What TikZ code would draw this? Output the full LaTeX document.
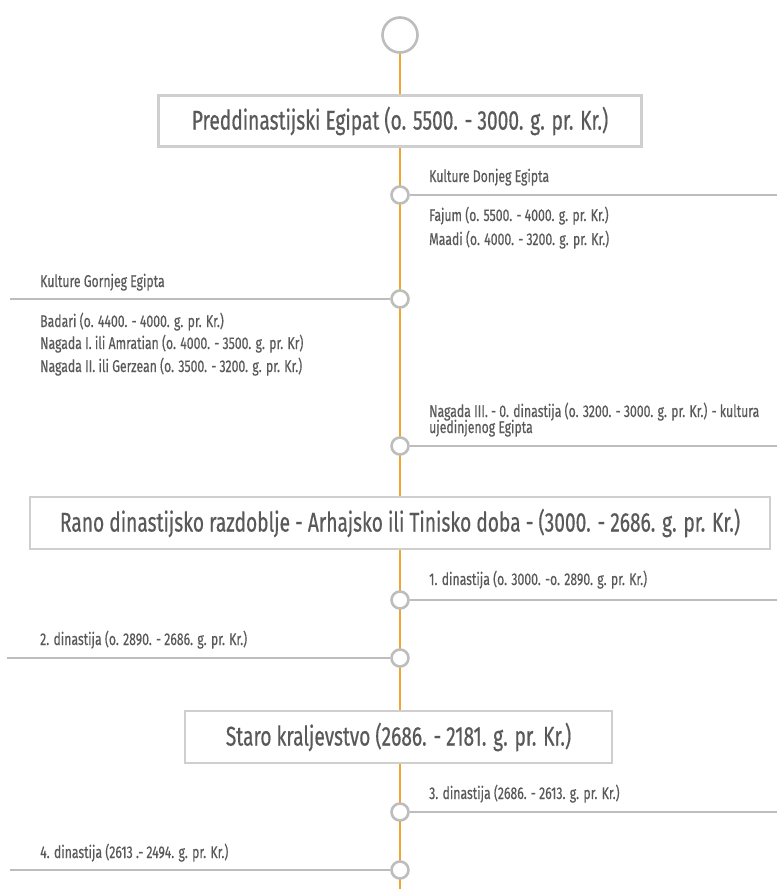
\documentclass[tikz,border=0pt]{standalone}
\usepackage{fontspec}
\setmainfont[FakeStretch=0.72,FakeBold=0.45]{Fira Sans}
\newfontfamily\erafont[FakeStretch=0.71,FakeBold=0.45]{Fira Sans}
\usetikzlibrary{positioning}
\definecolor{spine}{HTML}{F0A531}
\definecolor{rule}{HTML}{BDBDBD}
\definecolor{boxline}{HTML}{CFCFCF}
\definecolor{ink}{HTML}{595959}

\begin{document}
\begin{tikzpicture}[x=1pt,y=-1pt,
    dot/.style={circle,draw=rule,fill=white,line width=2.6pt,minimum size=17pt,inner sep=0pt},
    bigdot/.style={circle,draw=rule,fill=white,line width=2.6pt,minimum size=35pt,inner sep=0pt},
    era/.style={draw=boxline,fill=white,line width=2.6pt,text=ink,font=\erafont\fontsize{27}{30}\selectfont,inner sep=0pt},
    branch/.style={draw=rule,line width=2.6pt},
    head/.style={anchor=base west,text=ink,font=\fontsize{17}{18}\selectfont,inner sep=0pt},
    item/.style={anchor=base west,text=ink,font=\fontsize{17}{18}\selectfont,inner sep=0pt}]
  \useasboundingbox (0,0) rectangle (777,889);

  % os vremena
  \draw[spine,line width=2.6pt] (400,53) -- (400,889);
  \node[bigdot] (top) at (400,35) {};

  % predinastijsko razdoblje
  \node[era,minimum width=483pt,minimum height=51pt] (e1) at (400,121) {Preddinastijski Egipat (o. 5500. - 3000. g. pr. Kr.)};

  \node[dot] (d1) at (400,195) {};
  \coordinate (r1) at (777,195);
  \draw[branch] (d1) -- (r1);
  \node[head] (h1) at (429,182) {Kulture Donjeg Egipta};
  \node[item] (i11) at (429,221) {Fajum (o. 5500. - 4000. g. pr. Kr.)};
  \node[item] (i12) at (429,245) {Maadi (o. 4000. - 3200. g. pr. Kr.)};

  \node[dot] (d2) at (400,299) {};
  \coordinate (l2) at (10,299);
  \draw[branch] (d2) -- (l2);
  \node[head] (h2) at (40,287) {Kulture Gornjeg Egipta};
  \node[item] (i21) at (40,327) {Badari (o. 4400. - 4000. g. pr. Kr.)};
  \node[item] (i22) at (40,349) {Nagada I. ili Amratian (o. 4000. - 3500. g. pr. Kr)};
  \node[item] (i23) at (40,372) {Nagada II. ili Gerzean (o. 3500. - 3200. g. pr. Kr.)};

  \node[dot] (d3) at (400,446) {};
  \coordinate (r3) at (777,446);
  \draw[branch] (d3) -- (r3);
  \node[head] (h3) at (429,417) {Nagada III. - 0. dinastija (o. 3200. - 3000. g. pr. Kr.) - kultura};
  \node[head] (h3b) at (429,433) {ujedinjenog Egipta};

  % rano dinastijsko razdoblje
  \node[era,minimum width=740pt,minimum height=52pt] (e2) at (400,523) {Rano dinastijsko razdoblje - Arhajsko ili Tinisko doba - (3000. - 2686. g. pr. Kr.)};

  \node[dot] (d4) at (400,600) {};
  \coordinate (r4) at (777,600);
  \draw[branch] (d4) -- (r4);
  \node[head] (h4) at (429,585) {1. dinastija (o. 3000. -o. 2890. g. pr. Kr.)};

  \node[dot] (d5) at (400,658) {};
  \coordinate (l5) at (7,658);
  \draw[branch] (d5) -- (l5);
  \node[head] (h5) at (40,645) {2. dinastija (o. 2890. - 2686. g. pr. Kr.)};

  % staro kraljevstvo
  \node[era,minimum width=427pt,minimum height=52pt] (e3) at (398.5,737) {Staro kraljevstvo (2686. - 2181. g. pr. Kr.)};

  \node[dot] (d6) at (400,812) {};
  \coordinate (r6) at (777,812);
  \draw[branch] (d6) -- (r6);
  \node[head] (h6) at (429,799) {3. dinastija (2686. - 2613. g. pr. Kr.)};

  \node[dot] (d7) at (400,870) {};
  \coordinate (l7) at (10,870);
  \draw[branch] (d7) -- (l7);
  \node[head] (h7) at (40,858) {4. dinastija (2613 .- 2494. g. pr. Kr.)};
\end{tikzpicture}
\end{document}
